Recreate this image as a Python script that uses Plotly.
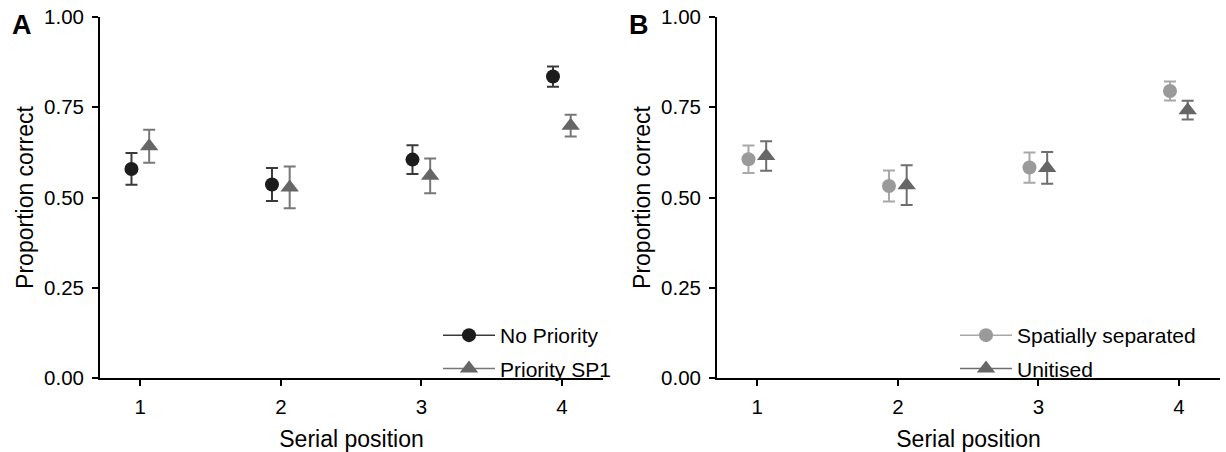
import plotly.graph_objects as go

# ---------------- data ----------------
positions = [1, 2, 3, 4]
tick_labels = ["1", "2", "3", "4"]
y_ticks = [0.0, 0.25, 0.5, 0.75, 1.0]

# Panel A
no_priority_mean = [0.579, 0.536, 0.605, 0.835]
no_priority_err = [0.044, 0.046, 0.040, 0.028]
priority_sp1_mean = [0.642, 0.528, 0.560, 0.699]
priority_sp1_err = [0.046, 0.058, 0.048, 0.030]

# Panel B
spatial_mean = [0.606, 0.532, 0.583, 0.795]
spatial_err = [0.038, 0.043, 0.042, 0.026]
unitised_mean = [0.615, 0.534, 0.582, 0.742]
unitised_err = [0.041, 0.055, 0.044, 0.026]

DODGE = 0.063
FONT = "Liberation Sans, Arial, Helvetica, sans-serif"

fig = go.Figure()


def add_series(name, mean, err, xoff, symbol, mcolor, ecolor, size, xa, ya, legend, group):
    xs = [p + xoff for p in positions]
    fig.add_trace(go.Scatter(
        x=xs, y=mean, mode="markers", name=name, showlegend=False,
        marker=dict(symbol=symbol, color=mcolor, size=size),
        error_y=dict(type="data", array=err, visible=True, color=ecolor,
                     thickness=2, width=6),
        xaxis=xa, yaxis=ya, hoverinfo="skip"))
    # legend glyph (line + marker, like a pointrange key)
    fig.add_trace(go.Scatter(
        x=[None], y=[None], mode="lines+markers", name=name,
        line=dict(color=ecolor, width=1.5),
        marker=dict(symbol=symbol, color=mcolor, size=size),
        xaxis=xa, yaxis=ya, legend=legend, legendgroup=group))


add_series("No Priority", no_priority_mean, no_priority_err, -DODGE,
           "circle", "#1c1c1c", "#3a3a3a", 14, "x", "y", "legend", "a1")
add_series("Priority SP1", priority_sp1_mean, priority_sp1_err, DODGE,
           "triangle-up", "#666666", "#777777", 16, "x", "y", "legend", "a2")
add_series("Spatially separated", spatial_mean, spatial_err, -DODGE,
           "circle", "#9a9a9a", "#a8a8a8", 14, "x2", "y2", "legend2", "b1")
add_series("Unitised", unitised_mean, unitised_err, DODGE,
           "triangle-up", "#666666", "#6e6e6e", 16, "x2", "y2", "legend2", "b2")

W, H = 1226, 452
y_dom = [1 - 378 / H, 1 - 17 / H]

xaxis_common = dict(
    range=[0.713, 4.293], tickmode="array", tickvals=positions, ticktext=tick_labels,
    showline=True, linecolor="black", linewidth=1.8, ticks="outside", ticklen=6,
    tickwidth=1.8, tickcolor="black", showgrid=False, zeroline=False,
    ticklabelstandoff=3,
    tickfont=dict(size=20.5, color="black", family=FONT),
    title=dict(text="Serial position", font=dict(size=23, color="black", family=FONT),
               standoff=17),
    automargin=False, fixedrange=True)

yaxis_common = dict(
    range=[0, 1], tickmode="array", tickvals=y_ticks, tickformat=".2f",
    showline=True, linecolor="black", linewidth=1.8, ticks="outside", ticklen=6,
    tickwidth=1.8, tickcolor="black", showgrid=False, zeroline=False,
    ticklabelstandoff=4,
    tickfont=dict(size=20.5, color="black", family=FONT),
    title=dict(text="Proportion correct", font=dict(size=23, color="black", family=FONT),
               standoff=4),
    automargin=False, fixedrange=True)

fig.update_layout(
    width=W, height=H,
    margin=dict(l=0, r=0, t=0, b=0),
    paper_bgcolor="white", plot_bgcolor="white",
    font=dict(family=FONT, color="black"),
    xaxis=dict(domain=[100 / W, 603 / W], anchor="y", **xaxis_common),
    yaxis=dict(domain=y_dom, anchor="x", **yaxis_common),
    xaxis2=dict(domain=[717 / W, 1220 / W], anchor="y2", **xaxis_common),
    yaxis2=dict(domain=y_dom, anchor="x2", **yaxis_common),
    legend=dict(x=438 / W, y=1 - 315 / H, xanchor="left", yanchor="top",
                bgcolor="rgba(0,0,0,0)", itemwidth=52, tracegroupgap=3,
                font=dict(size=21, color="black", family=FONT)),
    legend2=dict(x=955 / W, y=1 - 315 / H, xanchor="left", yanchor="top",
                 bgcolor="rgba(0,0,0,0)", itemwidth=52, tracegroupgap=3,
                 font=dict(size=21, color="black", family=FONT)),
    annotations=[
        dict(text="<b>A</b>", x=22 / W, y=1 - 25 / H, xref="paper", yref="paper",
             showarrow=False, xanchor="center", yanchor="middle",
             font=dict(size=27, color="black", family=FONT)),
        dict(text="<b>B</b>", x=639 / W, y=1 - 25 / H, xref="paper", yref="paper",
             showarrow=False, xanchor="center", yanchor="middle",
             font=dict(size=27, color="black", family=FONT)),
    ],
)

fig.write_html("out.html")
